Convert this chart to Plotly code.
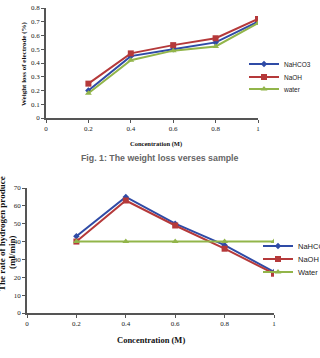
import plotly.graph_objects as go

conc = [0.2, 0.4, 0.6, 0.8, 1.0]
# Chart 1: weight loss of electrode (%)
wl_nahco3 = [0.20, 0.45, 0.50, 0.55, 0.70]
wl_naoh = [0.25, 0.47, 0.53, 0.58, 0.72]
wl_water = [0.18, 0.42, 0.49, 0.52, 0.69]
# Chart 2: rate of hydrogen produce (ml/min)
h_nahco3 = [43, 65, 50, 38, 23]
h_naoh = [40, 63, 49, 36, 22]
h_water = [40, 40, 40, 40, 40]

x_ticks = [0, 0.2, 0.4, 0.6, 0.8, 1]
x_labels = ["0", "0.2", "0.4", "0.6", "0.8", "1"]
y1_ticks = [0, 0.1, 0.2, 0.3, 0.4, 0.5, 0.6, 0.7, 0.8]
y1_labels = ["0", "0.1", "0.2", "0.3", "0.4", "0.5", "0.6", "0.7", "0.8"]

BLUE = "#2F4BA6"
RED = "#B5393A"
GREEN = "#92B54A"

W, H = 320, 358
fig = go.Figure()

def add(x, y, name, color, sym, xa, ya, legend, size=6):
    fig.add_trace(go.Scatter(x=x, y=y, name=name, mode="lines+markers",
                             line=dict(color=color, width=2),
                             marker=dict(symbol=sym, size=size, color=color),
                             xaxis=xa, yaxis=ya, legend=legend))

add(conc, wl_nahco3, "NaHCO3", BLUE, "diamond", "x", "y", "legend", 5)
add(conc, wl_naoh, "NaOH", RED, "square", "x", "y", "legend2")
add(conc, wl_water, "water", GREEN, "triangle-up", "x", "y", "legend3")
add(conc, h_nahco3, "NaHCO3", BLUE, "diamond", "x2", "y2", "legend4", 5)
add(conc, h_naoh, "NaOH", RED, "square", "x2", "y2", "legend5")
add(conc, h_water, "Water", GREEN, "triangle-up", "x2", "y2", "legend6")

tickfont = dict(family="Liberation Serif", size=7, color="#222")
ax_common = dict(showgrid=False, zeroline=False, showline=True, linecolor="#555",
                 linewidth=1.5, ticks="outside", ticklen=3, tickcolor="#555",
                 tickfont=tickfont)

def leg(xpx, ypx, size):
    return dict(x=xpx/W, y=1-ypx/H, xanchor="left", yanchor="middle",
                font=dict(family="Liberation Sans", size=size, color="#222"),
                bgcolor="rgba(0,0,0,0)", itemwidth=30)

fig.update_layout(
    width=W, height=H, margin=dict(l=0, r=0, t=0, b=0, autoexpand=False),
    paper_bgcolor="white", plot_bgcolor="white",
    xaxis=dict(domain=[46/W, 258/W], range=[0, 1], tickvals=x_ticks, ticktext=x_labels,
               anchor="y", **ax_common),
    yaxis=dict(domain=[1-118/H, 1-8/H], range=[0, 0.8], tickvals=y1_ticks, ticktext=y1_labels,
               anchor="x", **ax_common),
    xaxis2=dict(domain=[27/W, 274/W], range=[0, 1], tickvals=x_ticks, ticktext=x_labels,
                anchor="y2", **ax_common),
    yaxis2=dict(domain=[1-313/H, 1-188/H], range=[0, 70], dtick=10, anchor="x2",
                **ax_common),
    legend=leg(244, 64, 6.5),
    legend2=leg(244, 77, 6.5),
    legend3=leg(244, 89, 6.5),
    legend4=leg(258, 246, 7.5),
    legend5=leg(258, 259, 7.5),
    legend6=leg(258, 272, 7.5),
    showlegend=True,
)

serif_b = dict(family="Liberation Serif", color="#111")

def ann(text, xpx, ypx, size, font, angle=0):
    fig.add_annotation(text=text, x=xpx/W, y=1-ypx/H, xref="paper", yref="paper",
                       xanchor="center", yanchor="middle", showarrow=False,
                       textangle=angle, font=dict(size=size, **font))

ann("<b>Concentration (M)</b>", 156, 144, 6.5, serif_b)
ann("<b>Weight loss of electrode (%)</b>", 24, 64, 7, serif_b, -90)
ann("<b>Fig. 1: The weight loss verses sample</b>", 160, 158, 8.8,
    dict(family="Liberation Sans", color="#666"))
ann("<b>Concentration (M)</b>", 151, 340, 8.5, serif_b)
ann("<b>The rate of hydrogen produce</b>", 2, 234, 9, serif_b, -90)
ann("<b>(ml/min)</b>", 12, 252, 9, serif_b, -90)

fig.write_html("out.html")
